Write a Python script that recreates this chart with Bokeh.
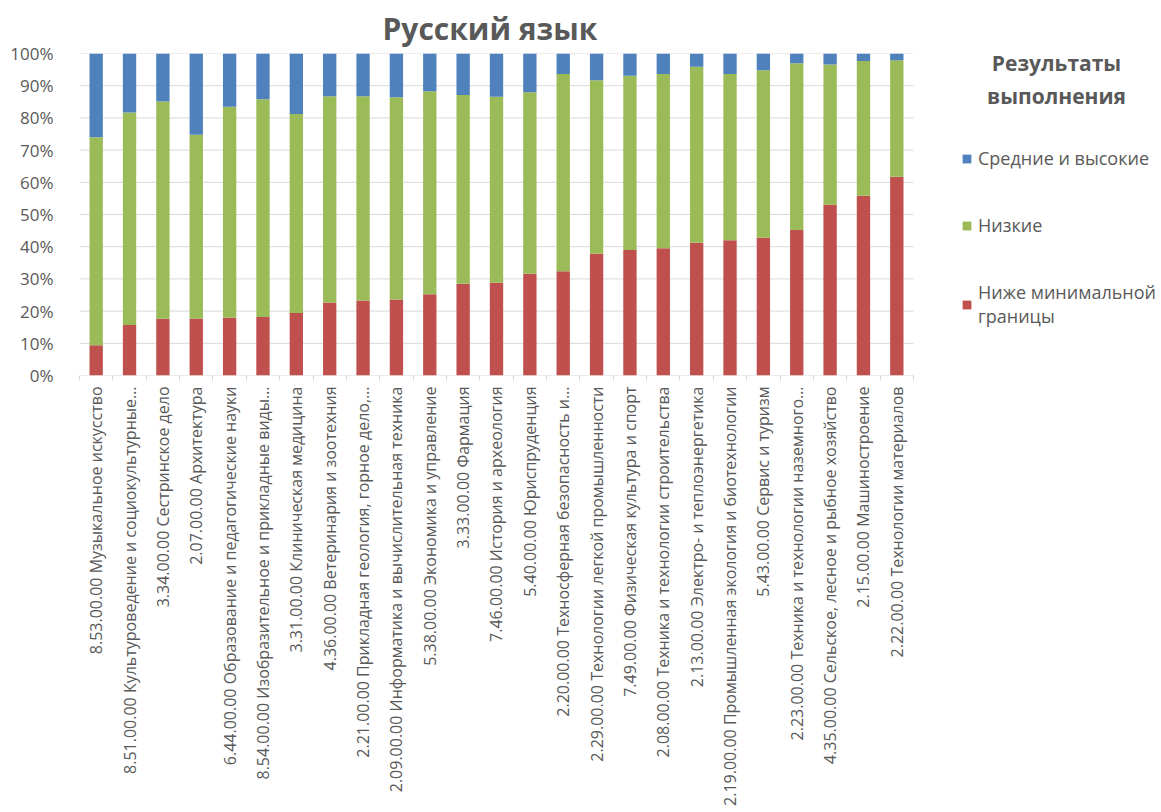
from bokeh.plotting import figure
from bokeh.models import (ColumnDataSource, Range1d, FixedTicker, PrintfTickFormatter,
                          Legend, LegendItem, Label)
from bokeh.embed import file_html
from bokeh.resources import INLINE

categories = [
    "8.53.00.00 Музыкальное искусство",
    "8.51.00.00 Культуроведение и социокультурные…",
    "3.34.00.00 Сестринское дело",
    "2.07.00.00 Архитектура",
    "6.44.00.00 Образование и педагогические науки",
    "8.54.00.00 Изобразительное и прикладные виды…",
    "3.31.00.00 Клиническая медицина",
    "4.36.00.00 Ветеринария и зоотехния",
    "2.21.00.00 Прикладная геология, горное дело,…",
    "2.09.00.00 Информатика и вычислительная техника",
    "5.38.00.00 Экономика и управление",
    "3.33.00.00 Фармация",
    "7.46.00.00 История и археология",
    "5.40.00.00 Юриспруденция",
    "2.20.00.00 Техносферная безопасность и…",
    "2.29.00.00 Технологии легкой промышленности",
    "7.49.00.00 Физическая культура и спорт",
    "2.08.00.00 Техника и технологии строительства",
    "2.13.00.00 Электро- и теплоэнергетика",
    "2.19.00.00 Промышленная экология и биотехнологии",
    "5.43.00.00 Сервис и туризм",
    "2.23.00.00 Техника и технологии наземного…",
    "4.35.00.00 Сельское, лесное и рыбное хозяйство",
    "2.15.00.00 Машиностроение",
    "2.22.00.00 Технологии материалов",
]

below_min = [9.4, 15.7, 17.6, 17.7, 17.9, 18.2, 19.4, 22.7, 23.3, 23.6, 25.2, 28.5, 28.8,
             31.6, 32.4, 37.8, 39.0, 39.5, 41.2, 42.0, 42.8, 45.2, 53.0, 55.8, 61.7]
low = [64.6, 66.0, 67.5, 57.1, 65.6, 67.6, 61.8, 64.0, 63.4, 62.8, 63.1, 58.6, 57.8,
       56.4, 61.2, 53.9, 54.1, 54.1, 54.7, 51.6, 52.0, 51.8, 43.6, 41.9, 36.2]
mid_high = [26.0, 18.3, 14.9, 25.2, 16.5, 14.2, 18.8, 13.3, 13.3, 13.6, 11.7, 12.9, 13.4,
            12.0, 6.4, 8.3, 6.9, 6.4, 4.1, 6.4, 5.2, 3.0, 3.4, 2.3, 2.1]

series_names = ["Ниже минимальной\nграницы", "Низкие", "Средние и высокие"]
legend_title = ["Результаты", "выполнения"]
colors = ["#C0504D", "#9BBB59", "#4F81BD"]
y_ticks = [0, 10, 20, 30, 40, 50, 60, 70, 80, 90, 100]

n = len(categories)
centers = [i + 0.5 for i in range(n)]
bounds = list(range(n + 1))

TXT = "#595959"
FONT = "Open Sans"
GRID = "#D9D9D9"

# layout (pixels): plot area of the bars spans 834 px; the frame extends to the
# right edge so that the legend can be drawn inside it
W, H = 1161, 812
LEFT, TOP, BOTTOM = 79, 52, 437
BAR_AREA = 834
x_end = n * (W - LEFT) / BAR_AREA

src = ColumnDataSource(dict(x=centers, below=below_min, low=low, mid=mid_high))
grid_src = ColumnDataSource(dict(y=y_ticks, x0=[0] * len(y_ticks), x1=[n] * len(y_ticks)))

p = figure(width=W, height=H, output_backend="svg", toolbar_location=None,
           x_range=Range1d(0, x_end), y_range=Range1d(0, 100),
           min_border_left=LEFT, min_border_right=0, min_border_top=TOP,
           min_border_bottom=BOTTOM, outline_line_color=None,
           title="Русский язык")

p.title.align = "left"
p.title.offset = 303
p.title.text_font = FONT
p.title.text_font_size = "30px"
p.title.text_font_style = "bold"
p.title.text_color = TXT

# horizontal gridlines across the bar area only
p.segment(x0="x0", y0="y", x1="x1", y1="y", source=grid_src, line_color=GRID, line_width=1)

rs = p.vbar_stack(["below", "low", "mid"], x="x", width=0.4, source=src,
                  color=colors, line_color=None)

# axes
p.yaxis.ticker = FixedTicker(ticks=y_ticks)
p.yaxis.formatter = PrintfTickFormatter(format="%d%%")
p.yaxis.axis_line_color = None
p.yaxis.major_tick_line_color = None
p.yaxis.minor_tick_line_color = None
p.yaxis.major_label_text_font = FONT
p.yaxis.major_label_text_font_size = "17px"
p.yaxis.major_label_text_color = TXT
p.yaxis.major_label_standoff = 20

p.xaxis.ticker = FixedTicker(ticks=centers, minor_ticks=bounds)
p.xaxis.major_label_overrides = {c: lab for c, lab in zip(centers, categories)}
p.xaxis.major_label_orientation = 1.5707963
p.xaxis.major_tick_line_color = None
p.xaxis.major_tick_in = 0
p.xaxis.major_tick_out = 0
p.xaxis.minor_tick_line_color = GRID
p.xaxis.minor_tick_in = 0
p.xaxis.minor_tick_out = 5
p.xaxis.axis_line_color = None
p.xaxis.major_label_text_font = FONT
p.xaxis.major_label_text_font_size = "16px"
p.xaxis.major_label_text_color = TXT
p.xaxis.major_label_standoff = 6

p.xgrid.grid_line_color = None
p.ygrid.grid_line_color = None

# legend
items = [LegendItem(label=series_names[2], renderers=[rs[2]]),
         LegendItem(label=series_names[1], renderers=[rs[1]]),
         LegendItem(label=series_names[0], renderers=[rs[0]])]
legend = Legend(items=items, location=(882, 47), orientation="vertical",
                glyph_width=11, glyph_height=11, label_text_font=FONT,
                label_text_font_size="18px", label_text_color=TXT,
                label_text_line_height=1.7, label_standoff=6,
                spacing=43, padding=0, margin=0, border_line_color=None,
                background_fill_alpha=0)
p.add_layout(legend, "center")

for txt, y in zip(legend_title, [313, 280]):
    p.add_layout(Label(x=977, y=y, x_units="screen", y_units="screen", text=txt,
                       text_align="center", text_baseline="middle", text_font=FONT,
                       text_font_size="21px", text_font_style="bold", text_color=TXT))

open("out.html", "w").write(file_html(p, INLINE))
